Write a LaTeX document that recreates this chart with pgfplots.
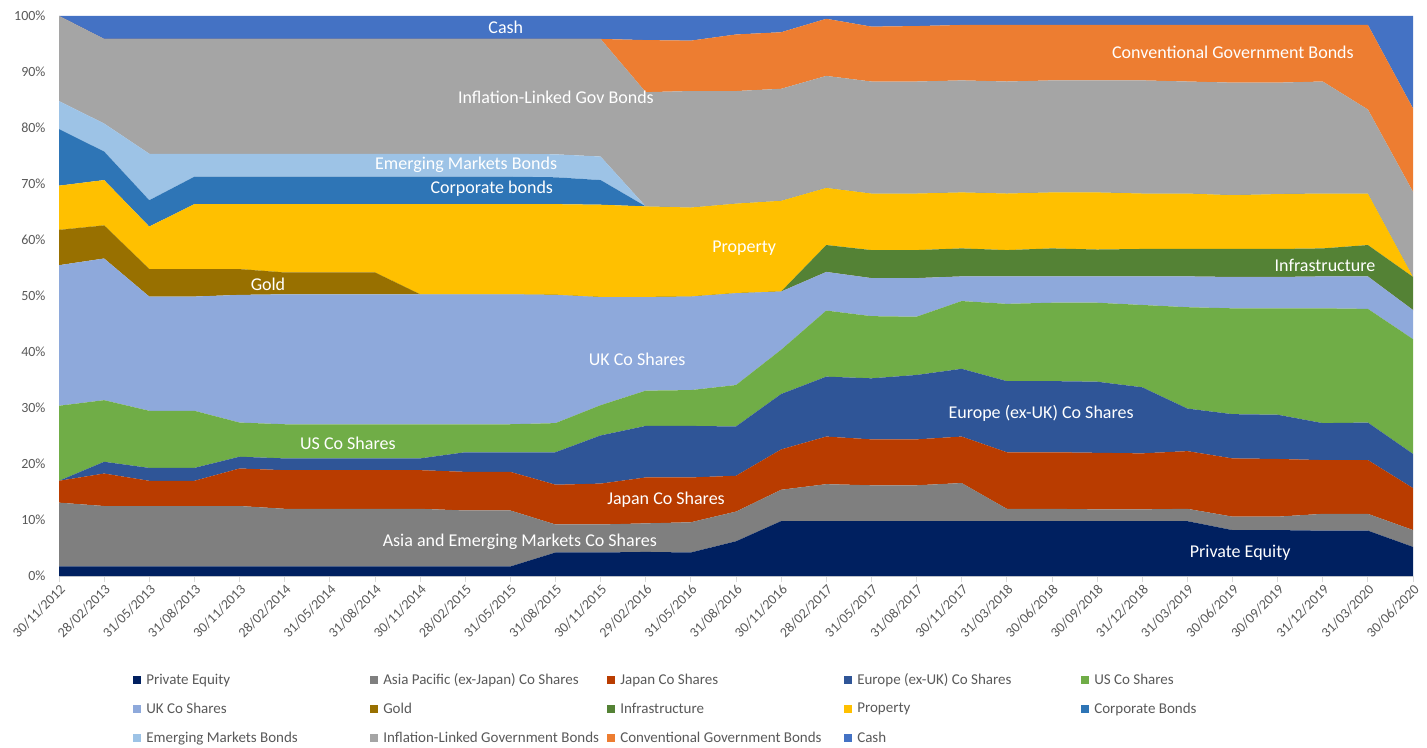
\documentclass[border=0pt]{standalone}
\usepackage{fontspec}
\setmainfont{Carlito}
\usepackage{pgfplots}
\usepackage{pgfplotstable}
\pgfplotsset{compat=1.18}
\definecolor{cPE}{HTML}{002060}
\definecolor{cAP}{HTML}{7F7F7F}
\definecolor{cJP}{HTML}{B93C00}
\definecolor{cEU}{HTML}{2F5597}
\definecolor{cUS}{HTML}{70AD47}
\definecolor{cUK}{HTML}{8EA9DB}
\definecolor{cGD}{HTML}{987000}
\definecolor{cIF}{HTML}{548235}
\definecolor{cPR}{HTML}{FFC000}
\definecolor{cCB}{HTML}{2E75B6}
\definecolor{cEM}{HTML}{9DC3E6}
\definecolor{cIL}{HTML}{A5A5A5}
\definecolor{cCG}{HTML}{ED7D31}
\definecolor{cCA}{HTML}{4472C4}
\definecolor{txt}{HTML}{595959}
\definecolor{axl}{HTML}{D9D9D9}
\tikzset{lbl/.style={text=white, font=\fontsize{18}{20}\selectfont, inner sep=0pt}}
\newcommand{\LE}[1]{\hspace{3pt}\makebox[222pt][l]{#1}}
\pgfplotstableread{
i  PE  AP   JP   EU   US   UK   GD  IF  PR   CB   EM  IL   CG   CA
0  1.7 11.4 3.9  0.0  13.4 25.1 6.3 0.0 7.9  10.1 5.0 15.2 0.0  0.0
1  1.7 10.8 5.8  2.1  11.0 25.3 5.9 0.0 8.1  5.1  5.0 15.1 0.0  4.1
2  1.7 10.8 4.5  2.3  10.2 20.4 4.9 0.0 7.6  4.7  8.3 20.5 0.0  4.1
3  1.7 10.8 4.5  2.3  10.2 20.4 4.9 0.0 11.6 4.9  4.1 20.5 0.0  4.1
4  1.7 10.8 6.7  2.1  6.1  22.8 4.6 0.0 11.6 4.9  4.1 20.5 0.0  4.1
5  1.7 10.3 6.9  2.1  6.1  23.2 3.9 0.0 12.2 4.9  4.1 20.5 0.0  4.1
6  1.7 10.3 6.9  2.1  6.1  23.2 3.9 0.0 12.2 4.9  4.1 20.5 0.0  4.1
7  1.7 10.3 6.9  2.1  6.1  23.2 3.9 0.0 12.2 4.9  4.1 20.5 0.0  4.1
8  1.7 10.3 6.9  2.1  6.1  23.2 0.0 0.0 16.1 4.9  4.1 20.5 0.0  4.1
9  1.7 10.0 6.9  3.5  5.0  23.2 0.0 0.0 16.1 4.9  4.1 20.5 0.0  4.1
10 1.7 10.0 6.9  3.5  5.0  23.2 0.0 0.0 16.1 4.9  4.1 20.5 0.0  4.1
11 4.2 5.0  7.1  5.8  5.2  22.9 0.0 0.0 16.2 4.8  4.1 20.6 0.0  4.1
12 4.2 5.0  7.3  8.6  5.4  19.3 0.0 0.0 16.5 4.4  4.2 21.0 0.0  4.1
13 4.3 5.1  8.2  9.2  6.3  16.7 0.0 0.0 16.2 0.0  0.0 20.4 9.3  4.3
14 4.2 5.4  8.0  9.2  6.4  16.7 0.0 0.0 15.9 0.0  0.0 20.8 9.0  4.4
15 6.2 5.3  6.4  8.8  7.4  16.4 0.0 0.0 16.0 0.0  0.0 20.1 10.1 3.3
16 9.8 5.6  7.2  9.9  7.9  10.4 0.0 0.0 16.2 0.0  0.0 20.0 10.1 2.9
17 9.8 6.6  8.5  10.7 11.8 6.9  0.0 4.8 10.2 0.0  0.0 20.0 10.2 0.5
18 9.8 6.4  8.2  10.9 11.1 6.8  0.0 5.0 10.1 0.0  0.0 20.0 9.8  1.9
19 9.8 6.4  8.2  11.5 10.4 6.9  0.0 5.0 10.1 0.0  0.0 20.0 9.9  1.8
20 9.8 6.8  8.3  12.1 12.1 4.4  0.0 5.0 10.0 0.0  0.0 20.0 9.9  1.6
21 9.8 2.2  10.1 12.7 13.8 4.9  0.0 4.7 10.1 0.0  0.0 20.0 10.1 1.6
22 9.8 2.2  10.1 12.7 14.0 4.7  0.0 5.0 10.0 0.0  0.0 20.0 9.9  1.6
23 9.8 2.1  10.1 12.7 14.1 4.7  0.0 4.8 10.2 0.0  0.0 20.0 9.9  1.6
24 9.8 2.1  10.0 11.8 14.7 5.1  0.0 4.9 9.9  0.0  0.0 20.2 9.9  1.6
25 9.8 2.2  10.3 7.6  18.1 5.5  0.0 4.9 9.9  0.0  0.0 20.0 10.1 1.6
26 8.2 2.4  10.4 7.9  18.9 5.6  0.0 5.0 9.6  0.0  0.0 20.1 10.3 1.6
27 8.2 2.4  10.3 7.9  19.0 5.6  0.0 5.0 9.8  0.0  0.0 19.9 10.3 1.6
28 8.1 3.0  9.6  6.6  20.5 5.7  0.0 5.0 9.8  0.0  0.0 20.0 10.1 1.6
29 8.1 3.0  9.6  6.7  20.3 5.8  0.0 5.6 9.2  0.0  0.0 15.0 15.1 1.6
30 5.2 3.0  7.5  6.1  20.5 5.2  0.0 5.9 0.0  0.0  0.0 15.2 14.9 16.5
}\data
\begin{document}
\begin{tikzpicture}
\begin{axis}[
  scale only axis, width=1354pt, height=560pt,
  xmin=0, xmax=30, ymin=0, ymax=100,
  stack plots=y,
  axis x line*=bottom, axis y line*=left,
  axis line style={-},
  y axis line style={draw=none},
  x axis line style={draw=axl, line width=0.8pt},
  xtick={0,...,30},
  xticklabels={30/11/2012,28/02/2013,31/05/2013,31/08/2013,30/11/2013,28/02/2014,31/05/2014,31/08/2014,30/11/2014,28/02/2015,31/05/2015,31/08/2015,30/11/2015,29/02/2016,31/05/2016,31/08/2016,30/11/2016,28/02/2017,31/05/2017,31/08/2017,30/11/2017,31/03/2018,30/06/2018,30/09/2018,31/12/2018,31/03/2019,30/06/2019,30/09/2019,31/12/2019,31/03/2020,30/06/2020},
  xtick align=outside, major tick length=6pt,
  xtick style={draw=axl, line width=0.8pt},
  ytick={0,10,...,100},
  yticklabels={0\%,10\%,20\%,30\%,40\%,50\%,60\%,70\%,80\%,90\%,100\%},
  ytick style={draw=none},
  tick label style={font=\fontsize{14}{16}\selectfont, text=txt},
  xticklabel style={rotate=45, anchor=north east, inner sep=1pt},
  yticklabel style={xshift=-10pt},
  /pgf/number format/assume math mode=true,
  legend columns=5,
  legend cell align=left,
  legend style={at={(0.0547,-0.170)}, anchor=north west, draw=none, fill=none,
    font=\fontsize{15}{17}\selectfont, text=txt, row sep=13pt, column sep=0pt, inner sep=0pt},
  legend image code/.code={\fill[#1] (0pt,-4pt) rectangle (8pt,4pt);},
  after end axis/.append code={
    \node[lbl] at (axis cs:9.90,98.0) {Cash};
    \node[lbl] at (axis cs:11.01,85.4) {Inflation-Linked Gov Bonds};
    \node[lbl] at (axis cs:9.02,73.4) {Emerging Markets Bonds};
    \node[lbl] at (axis cs:9.59,69.1) {Corporate bonds};
    \node[lbl] at (axis cs:4.63,52.0) {Gold};
    \node[lbl] at (axis cs:15.18,58.6) {Property};
    \node[lbl] at (axis cs:12.81,38.75) {UK Co Shares};
    \node[lbl] at (axis cs:6.40,23.75) {US Co Shares};
    \node[lbl] at (axis cs:13.45,13.6) {Japan Co Shares};
    \node[lbl] at (axis cs:10.21,6.07) {Asia and Emerging Markets Co Shares};
    \node[lbl] at (axis cs:21.76,29.1) {Europe (ex-UK) Co Shares};
    \node[lbl] at (axis cs:26.01,93.6) {Conventional Government Bonds};
    \node[lbl] at (axis cs:28.05,55.5) {Infrastructure};
    \node[lbl] at (axis cs:26.17,4.1) {Private Equity};
  },
]
\addplot[fill=cPE, draw=none] table[x=i, y=PE] {\data} \closedcycle;
\addlegendentry{\LE{Private Equity}}
\addplot[fill=cAP, draw=none] table[x=i, y=AP] {\data} \closedcycle;
\addlegendentry{\LE{Asia Pacific (ex-Japan) Co Shares}}
\addplot[fill=cJP, draw=none] table[x=i, y=JP] {\data} \closedcycle;
\addlegendentry{\LE{Japan Co Shares}}
\addplot[fill=cEU, draw=none] table[x=i, y=EU] {\data} \closedcycle;
\addlegendentry{\LE{Europe (ex-UK) Co Shares}}
\addplot[fill=cUS, draw=none] table[x=i, y=US] {\data} \closedcycle;
\addlegendentry{\LE{US Co Shares}}
\addplot[fill=cUK, draw=none] table[x=i, y=UK] {\data} \closedcycle;
\addlegendentry{\LE{UK Co Shares}}
\addplot[fill=cGD, draw=none] table[x=i, y=GD] {\data} \closedcycle;
\addlegendentry{\LE{Gold}}
\addplot[fill=cIF, draw=none] table[x=i, y=IF] {\data} \closedcycle;
\addlegendentry{\LE{Infrastructure}}
\addplot[fill=cPR, draw=none] table[x=i, y=PR] {\data} \closedcycle;
\addlegendentry{\LE{Property}}
\addplot[fill=cCB, draw=none] table[x=i, y=CB] {\data} \closedcycle;
\addlegendentry{\LE{Corporate Bonds}}
\addplot[fill=cEM, draw=none] table[x=i, y=EM] {\data} \closedcycle;
\addlegendentry{\LE{Emerging Markets Bonds}}
\addplot[fill=cIL, draw=none] table[x=i, y=IL] {\data} \closedcycle;
\addlegendentry{\LE{Inflation-Linked Government Bonds}}
\addplot[fill=cCG, draw=none] table[x=i, y=CG] {\data} \closedcycle;
\addlegendentry{\LE{Conventional Government Bonds}}
\addplot[fill=cCA, draw=none] table[x=i, y=CA] {\data} \closedcycle;
\addlegendentry{\LE{Cash}}
\end{axis}
\path ([xshift=-59pt,yshift=-171pt]current axis.south west) rectangle ([xshift=14pt,yshift=16pt]current axis.north east);
\end{tikzpicture}
\end{document}
